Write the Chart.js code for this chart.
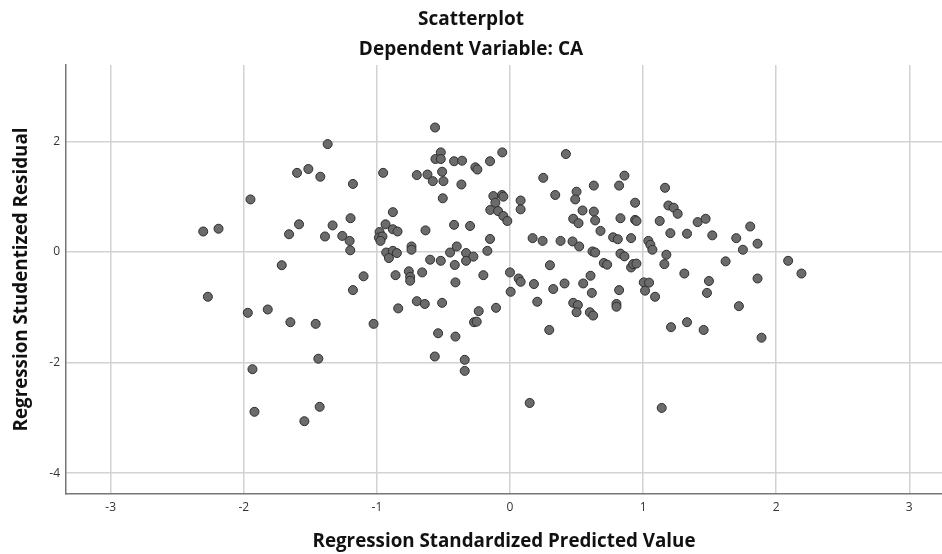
<!DOCTYPE html>
<html>
<head>
<meta charset="utf-8">
<title>Scatterplot</title>
<script src="https://cdn.jsdelivr.net/npm/chart.js@4.4.1/dist/chart.umd.min.js"></script>
<style>
  html, body { margin: 0; padding: 0; background: #fff; overflow: hidden; }
  #scatterChart { display: block; position: absolute; left: 0; top: 0; }
</style>
</head>
<body>
<canvas id="scatterChart" width="942" height="554"></canvas>
<script>
// Regression Standardized Predicted Value (x) / Studentized Residual (y)
const predicted = [
  -1.37, -1.60, -1.515, -1.425, -0.953, -1.18, -1.95, -0.88, -2.305, -2.19,
  -1.585, -1.66, -1.333, -1.198, -1.39, -1.26, -1.205, -1.20, -0.98, -0.935,
  -0.88, -0.845, -0.985, -0.958, -0.973, -0.93, -0.88, -0.85, -0.91, -0.86,
  -1.715, -1.10, -1.18, -2.27, -1.97, -1.82, -0.84, -1.65, -1.46, -1.025,
  -0.70, -0.64, -0.51, -0.54, -0.41, -0.235, -0.27, -0.25, -0.565, -0.34,
  -0.34, -1.44, -1.935, -1.92, -1.43, -1.545, -0.105, 0.205, 0.475, 0.51,
  0.50, 0.60, 0.625, 0.80, 0.80, 0.295, 1.09, 1.21, 1.33, 1.455,
  1.72, 1.89, 0.148, 1.14, -0.563, -0.52, -0.56, -0.52, -0.42, -0.36,
  -0.26, -0.245, -0.15, -0.058, -0.70, -0.62, -0.58, -0.51, -0.50, -0.365,
  -0.505, -0.635, -0.42, -0.30, -0.125, -0.06, -0.05, -0.11, -0.148, -0.09,
  -0.05, -0.02, 0.08, 0.08, 0.25, 0.42, 0.34, 0.50, 0.49, 0.475,
  0.515, -0.15, -0.17, -0.40, -0.45, -0.33, -0.275, -0.33, -0.52, -0.60,
  -0.415, -0.74, -0.74, -0.76, -0.75, -0.75, -0.66, -0.41, -0.20, 0.0,
  0.065, 0.08, 0.005, 0.17, 0.245, 0.38, 0.47, 0.52, 0.30, 0.18,
  0.325, 0.41, 0.86, 0.63, 0.82, 1.165, 0.94, 0.545, 0.63, 0.64,
  0.83, 0.94, 0.95, 1.19, 1.23, 1.26, 1.125, 1.41, 1.47, 1.205,
  1.33, 1.52, 1.70, 1.805, 1.75, 1.86, 0.68, 0.775, 0.81, 0.91,
  0.62, 0.64, 0.83, 0.86, 1.04, 1.055, 1.07, 1.175, 1.16, 0.705,
  0.73, 0.91, 0.925, 0.95, 0.605, 0.55, 0.615, 0.82, 1.005, 1.045,
  1.015, 1.31, 1.62, 1.495, 1.48, 1.86, 2.09, 2.19
];
const residual = [
  1.95, 1.43, 1.50, 1.36, 1.43, 1.23, 0.95, 0.72, 0.37, 0.42,
  0.50, 0.32, 0.48, 0.61, 0.28, 0.29, 0.20, 0.03, 0.36, 0.50,
  0.41, 0.37, 0.26, 0.28, 0.20, -0.01, 0.02, -0.02, -0.11, -0.42,
  -0.24, -0.44, -0.69, -0.81, -1.10, -1.04, -1.02, -1.27, -1.30, -1.30,
  -0.89, -0.94, -0.92, -1.47, -1.53, -1.07, -1.27, -1.26, -1.89, -1.95,
  -2.15, -1.93, -2.12, -2.89, -2.80, -3.06, -1.01, -0.90, -0.92, -0.96,
  -1.09, -1.09, -1.15, -0.94, -0.99, -1.41, -0.81, -1.36, -1.27, -1.41,
  -0.98, -1.55, -2.73, -2.82, 2.25, 1.80, 1.68, 1.68, 1.64, 1.65,
  1.53, 1.49, 1.64, 1.80, 1.39, 1.40, 1.28, 1.45, 1.28, 1.22,
  0.97, 0.39, 0.49, 0.47, 1.01, 1.03, 1.00, 0.89, 0.76, 0.74,
  0.65, 0.56, 0.93, 0.77, 1.34, 1.77, 1.03, 1.09, 0.95, 0.60,
  0.52, 0.235, 0.02, 0.10, -0.01, -0.02, -0.085, -0.16, -0.16, -0.14,
  -0.235, 0.10, 0.04, -0.35, -0.45, -0.52, -0.37, -0.55, -0.42, -0.37,
  -0.48, -0.54, -0.72, 0.25, 0.20, 0.20, 0.19, 0.10, -0.24, -0.58,
  -0.67, -0.57, 1.38, 1.20, 1.20, 1.16, 0.89, 0.75, 0.73, 0.57,
  0.61, 0.58, 0.56, 0.84, 0.80, 0.69, 0.56, 0.54, 0.60, 0.34,
  0.33, 0.30, 0.25, 0.46, 0.04, 0.15, 0.38, 0.265, 0.23, 0.25,
  0.01, -0.01, -0.03, -0.08, 0.20, 0.13, 0.04, -0.05, -0.22, -0.20,
  -0.23, -0.28, -0.22, -0.21, -0.43, -0.57, -0.74, -0.69, -0.55, -0.555,
  -0.70, -0.39, -0.17, -0.525, -0.74, -0.48, -0.16, -0.39
];

const xTicks = [-3, -2, -1, 0, 1, 2, 3];
const yTicks = [-4, -2, 0, 2];

const points = predicted.map((x, i) => ({ x: x, y: residual[i] }));

const fontFamily = '"Open Sans", "DejaVu Sans", sans-serif';

const ctx = document.getElementById('scatterChart').getContext('2d');
const scatterChart = new Chart(ctx, {
    type: 'scatter',
    data: {
        datasets: [
            {
                data: points,
                backgroundColor: '#6b6b6b',
                borderColor: '#2e2e2e',
                borderWidth: 1,
                pointRadius: 4.5,
                pointHoverRadius: 4.5,
            },
        ],
    },
    options: {
        responsive: false,
        animation: false,
        layout: { padding: 0, autoPadding: false },
        plugins: {
            legend: { display: false },
            tooltip: { enabled: false },
            title: {
                display: true,
                text: 'Scatterplot',
                color: '#111',
                font: { family: fontFamily, size: 19, weight: 'bold' },
                padding: { top: 8, bottom: 2 },
            },
            subtitle: {
                display: true,
                text: 'Dependent Variable: CA',
                color: '#111',
                font: { family: fontFamily, size: 19, weight: 'bold' },
                padding: { top: 5.3, bottom: 4.1 },
            },
        },
        scales: {
            x: {
                type: 'linear',
                min: -3.336,
                max: 3.246,
                afterFit: (scale) => {
                    scale.height = 60;
                    scale.paddingLeft = 0;
                    scale.paddingRight = 0;
                },
                afterBuildTicks: (scale) => { scale.ticks = xTicks.map(v => ({ value: v })); },
                ticks: {
                    color: '#333',
                    font: { family: fontFamily, size: 12 },
                    padding: 6,
                },
                grid: { color: '#d2d2d2', lineWidth: 1.5, drawTicks: false },
                border: { color: '#777', width: 1.5 },
                title: {
                    display: true,
                    text: 'Regression Standardized Predicted Value',
                    color: '#111',
                    font: { family: fontFamily, size: 18.8, weight: 'bold' },
                    padding: { top: 0, bottom: 1 },
                },
            },
            y: {
                type: 'linear',
                min: -4.376,
                max: 3.38,
                afterFit: (scale) => {
                    scale.width = 66;
                    scale.paddingTop = 0;
                    scale.paddingBottom = 0;
                },
                afterBuildTicks: (scale) => { scale.ticks = yTicks.map(v => ({ value: v })); },
                ticks: {
                    color: '#333',
                    font: { family: fontFamily, size: 12 },
                    padding: 6,
                },
                grid: { color: '#d2d2d2', lineWidth: 1.5, drawTicks: false },
                border: { color: '#777', width: 1.5 },
                title: {
                    display: true,
                    text: 'Regression Studentized Residual',
                    color: '#111',
                    font: { family: fontFamily, size: 18.8, weight: 'bold' },
                    padding: { top: 10, bottom: 0 },
                },
            },
        },
    },
});
</script>
</body>
</html>
